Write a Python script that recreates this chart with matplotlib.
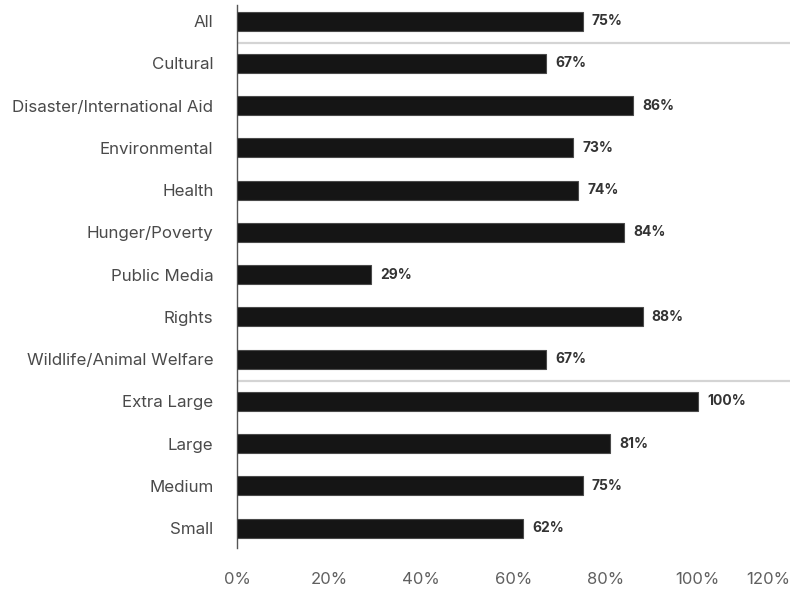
import matplotlib.pyplot as plt

# share of organisations, by cause and by size
categories = [
    "All",
    "Cultural",
    "Disaster/International Aid",
    "Environmental",
    "Health",
    "Hunger/Poverty",
    "Public Media",
    "Rights",
    "Wildlife/Animal Welfare",
    "Extra Large",
    "Large",
    "Medium",
    "Small",
]
values = [75, 67, 86, 73, 74, 84, 29, 88, 67, 100, 81, 75, 62]
tick_values = [0, 20, 40, 60, 80, 100, 120]
# group breaks sit after these rows
group_breaks = [0, 8]

plt.rcParams["font.family"] = ["Inter", "DejaVu Sans"]

fig = plt.figure(figsize=(7.9, 5.9), dpi=100)
ax = fig.add_axes([0.3, 0.0712, 0.70, 0.9203])

ypos = list(range(len(categories)))
ax.barh(ypos, values, height=0.45, color="#151515", edgecolor="#4a4a4a",
        linewidth=0.8, zorder=3)

for y, v in zip(ypos, values):
    ax.text(v + 2.0, y, f"{v}%", va="center", ha="left", fontsize=10,
            fontweight="bold", color="#333333")

for b in group_breaks:
    ax.axhline(b + 0.52, color="#d4d4d4", linewidth=1.6, zorder=1)

ax.set_xlim(0, 120)
ax.set_ylim(12.47, -0.38)
ax.set_yticks(ypos)
ax.set_yticklabels(categories, fontsize=12.2, color="#4a4a4a")
ax.tick_params(axis="y", length=0, pad=17)

ax.set_xticks(tick_values)
xlabels = ax.set_xticklabels([f"{t}%" for t in tick_values], fontsize=12,
                             color="#606060")
# keep the last label inside the figure
xlabels[-1].set_horizontalalignment("right")
ax.tick_params(axis="x", length=0, pad=17)

for side in ["top", "right", "bottom"]:
    ax.spines[side].set_visible(False)
ax.spines["left"].set_color("#555555")
ax.spines["left"].set_linewidth(1.0)

fig.savefig("out.png", dpi=100, facecolor="white")
